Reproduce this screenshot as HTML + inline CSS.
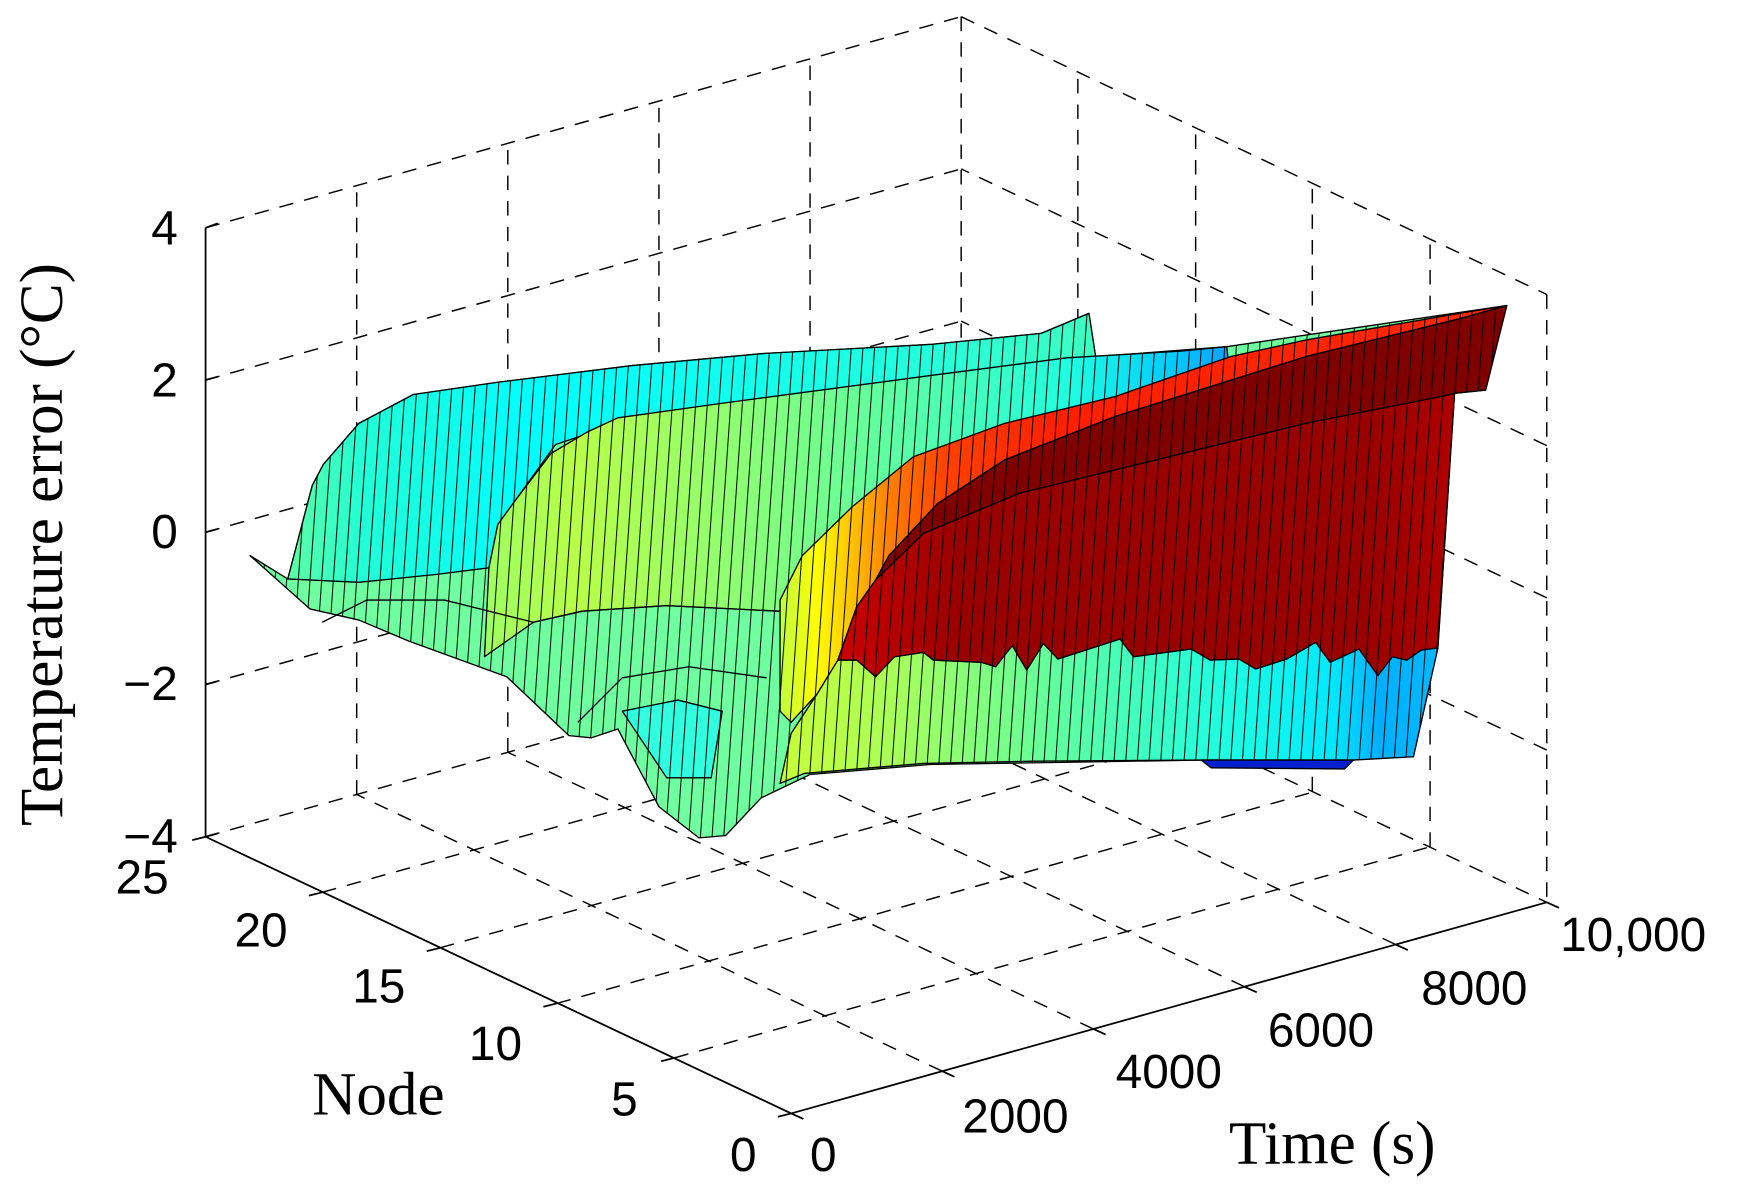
<!DOCTYPE html>
<html><head><meta charset="utf-8"><style>
html,body{margin:0;padding:0;background:#fff;}
svg{display:block;}
</style></head><body>
<svg width="1739" height="1195" viewBox="0 0 1565 1075.4" preserveAspectRatio="none" xmlns="http://www.w3.org/2000/svg">
<defs>
<pattern id="st" patternUnits="userSpaceOnUse" width="10.5" height="40" patternTransform="skewX(-4)">
<line x1="0.5" y1="0" x2="0.5" y2="40" stroke="#000" stroke-width="0.9"/>
</pattern>
<linearGradient id="g1" gradientUnits="userSpaceOnUse" x1="255" y1="0" x2="990" y2="0">
<stop offset="0" stop-color="#60ffa0"/><stop offset="0.1" stop-color="#20ffd8"/><stop offset="0.3" stop-color="#00ffff"/><stop offset="0.75" stop-color="#20ffe0"/><stop offset="1" stop-color="#40ffc0"/></linearGradient>
<linearGradient id="g2" gradientUnits="userSpaceOnUse" x1="440" y1="0" x2="1106" y2="0">
<stop offset="0" stop-color="#a0ff60"/><stop offset="0.12" stop-color="#b8ff48"/><stop offset="0.32" stop-color="#90ff70"/><stop offset="0.6" stop-color="#50ffb0"/><stop offset="0.78" stop-color="#20ffe0"/><stop offset="0.93" stop-color="#00c8ff"/><stop offset="1" stop-color="#10a0ff"/></linearGradient>
<linearGradient id="g3" gradientUnits="userSpaceOnUse" x1="702" y1="0" x2="1294" y2="0">
<stop offset="0" stop-color="#c8ff38"/><stop offset="0.17" stop-color="#a8ff58"/><stop offset="0.42" stop-color="#60ffa0"/><stop offset="0.67" stop-color="#20ffe0"/><stop offset="0.84" stop-color="#00e8ff"/><stop offset="0.91" stop-color="#00b0ff"/><stop offset="1" stop-color="#00b8ff"/></linearGradient>
<linearGradient id="g4" gradientUnits="userSpaceOnUse" x1="702" y1="0" x2="1356" y2="0">
<stop offset="0" stop-color="#c0ff40"/><stop offset="0.05" stop-color="#ffff00"/><stop offset="0.1" stop-color="#ffc000"/><stop offset="0.15" stop-color="#ff8000"/><stop offset="0.23" stop-color="#ff4000"/><stop offset="0.38" stop-color="#ff2000"/><stop offset="1" stop-color="#ff2800"/></linearGradient>
<linearGradient id="g5" gradientUnits="userSpaceOnUse" x1="754" y1="0" x2="1310" y2="0">
<stop offset="0" stop-color="#cc0000"/><stop offset="0.2" stop-color="#990000"/><stop offset="0.85" stop-color="#990000"/><stop offset="1" stop-color="#b00000"/></linearGradient>
</defs>

<g stroke="#000" stroke-width="1.3" stroke-dasharray="13,10" fill="none">
<line x1="321" y1="715" x2="321" y2="167"/><line x1="457" y1="677" x2="457" y2="129"/><line x1="593" y1="639" x2="593" y2="91"/><line x1="729" y1="601" x2="729" y2="53"/>
<line x1="185" y1="616" x2="865" y2="426"/><line x1="185" y1="479" x2="865" y2="289"/><line x1="185" y1="342" x2="865" y2="152"/>
<line x1="1287" y1="762" x2="1287" y2="214"/><line x1="1181" y1="712" x2="1181" y2="164"/><line x1="1076" y1="663" x2="1076" y2="115"/><line x1="970" y1="613" x2="970" y2="65"/>
<line x1="1392" y1="675" x2="865" y2="426"/><line x1="1392" y1="538" x2="865" y2="289"/><line x1="1392" y1="401" x2="865" y2="152"/>
<line x1="848" y1="964" x2="321" y2="715"/><line x1="984" y1="926" x2="457" y2="677"/><line x1="1120" y1="888" x2="593" y2="639"/><line x1="1256" y1="850" x2="729" y2="601"/>
<line x1="607" y1="952" x2="1287" y2="762"/><line x1="501" y1="903" x2="1181" y2="713"/><line x1="396" y1="853" x2="1076" y2="663"/><line x1="290" y1="803" x2="970" y2="613"/>
<line x1="185" y1="205" x2="865" y2="15"/><line x1="865" y1="15" x2="1392" y2="265"/><line x1="1392" y1="265" x2="1392" y2="812"/><line x1="865" y1="15" x2="865" y2="563"/>
<line x1="185" y1="753" x2="865" y2="563"/><line x1="865" y1="563" x2="1392" y2="812"/>
</g>
<g stroke="#000" stroke-width="1.6" fill="none">
<line x1="185" y1="205" x2="185" y2="753"/><line x1="185" y1="753" x2="712" y2="1002"/><line x1="712" y1="1002" x2="1392" y2="812"/>
<line x1="185" y1="205" x2="196" y2="201"/><line x1="185" y1="342" x2="196" y2="339"/><line x1="185" y1="479" x2="196" y2="476"/><line x1="185" y1="616" x2="196" y2="613"/><line x1="185" y1="753" x2="196" y2="750"/>
<line x1="712" y1="1002" x2="723" y2="1007"/><line x1="848" y1="964" x2="859" y2="969"/><line x1="984" y1="926" x2="995" y2="931"/><line x1="1120" y1="888" x2="1131" y2="893"/><line x1="1256" y1="850" x2="1267" y2="855"/><line x1="1392" y1="812" x2="1403" y2="817"/>
<line x1="712" y1="1002" x2="700" y2="1005"/><line x1="607" y1="952" x2="595" y2="955"/><line x1="501" y1="903" x2="489" y2="906"/><line x1="396" y1="853" x2="384" y2="856"/><line x1="290" y1="803" x2="278" y2="806"/><line x1="185" y1="753" x2="173" y2="756"/>
</g>

<g stroke="#000" stroke-width="1.2" stroke-linejoin="round">
<polygon fill="#70ffa0" points="225,500 279,548 323,558 368,577 456,609 512,662 532,664 556,656 593,726 629,754 653,752 685,718 729,697 837,688 1081,684 1272,681 1294,583 1309,354 1337,351 1356,275 1104,312 986,321 980,282 937,300 837,310 689,318 569,329 448,344 372,355 323,381 291,418 281,437 259,521"/>
<polygon fill="url(#st)" stroke="none" points="225,500 279,548 323,558 368,577 456,609 512,662 532,664 556,656 593,726 629,754 653,752 685,718 729,697 837,688 1081,684 1272,681 1294,583 1309,354 1337,351 1356,275 1104,312 986,321 980,282 937,300 837,310 689,318 569,329 448,344 372,355 323,381 291,418 281,437 259,521"/>
<polygon fill="#30ffe0" points="560,640 610,630 650,640 640,700 600,700"/>
<polygon fill="url(#st)" stroke="none" points="560,640 610,630 650,640 640,700 600,700"/>
<polygon fill="url(#g1)" points="259,521 281,437 291,418 323,381 372,355 448,344 569,329 689,318 837,310 937,300 980,282 986,321 840,340 560,380 500,400 464,450 448,472 440,511 392,517 323,524"/>
<polygon fill="url(#st)" stroke="none" points="259,521 281,437 291,418 323,381 372,355 448,344 569,329 689,318 837,310 937,300 980,282 986,321 840,340 560,380 500,400 464,450 448,472 440,511 392,517 323,524"/>
<polygon fill="url(#g2)" points="436,591 440,511 448,472 464,450 496,408 528,389 556,376 649,363 837,338 960,322 1063,316 1104,312 1106,330 900,420 780,480 720,530 701,550 600,545 524,550 480,560"/>
<polygon fill="url(#st)" stroke="none" points="436,591 440,511 448,472 464,450 496,408 528,389 556,376 649,363 837,338 960,322 1063,316 1104,312 1106,330 900,420 780,480 720,530 701,550 600,545 524,550 480,560"/>
<polyline fill="none" points="290,560 330,540 400,540 480,560 524,550 600,545 701,550"/>
<polyline fill="none" points="520,650 560,610 620,600 690,610"/>
<polygon fill="url(#g3)" points="702,705 724,696 831,687 930,685 1081,684 1218,684 1272,681 1294,583 1279,585 1266,594 1253,591 1240,608 1223,584 1197,596 1184,578 1158,593 1130,602 1115,593 1089,594 1072,584 1020,591 1008,575 952,593 939,579 924,603 911,581 896,600 883,596 840,594 831,587 805,591 788,609 771,594 754,594 735,625 712,660"/>
<polygon fill="url(#st)" stroke="none" points="702,705 724,696 831,687 930,685 1081,684 1218,684 1272,681 1294,583 1279,585 1266,594 1253,591 1240,608 1223,584 1197,596 1184,578 1158,593 1130,602 1115,593 1089,594 1072,584 1020,591 1008,575 952,593 939,579 924,603 911,581 896,600 883,596 840,594 831,587 805,591 788,609 771,594 754,594 735,625 712,660"/>
<polygon fill="#0020d0" points="1081,684 1218,684 1210,692 1090,691"/>
<polygon fill="url(#g4)" points="702,540 722,500 767,456 822,411 904,381 1003,357 1107,321 1175,306 1313,282 1356,275 1313,287 1175,321 1089,348 1003,375 904,414 844,453 800,500 788,522 771,546 754,594 735,625 712,650 702,640"/>
<polygon fill="url(#st)" stroke="none" points="702,540 722,500 767,456 822,411 904,381 1003,357 1107,321 1175,306 1313,282 1356,275 1313,287 1175,321 1089,348 1003,375 904,414 844,453 800,500 788,522 771,546 754,594 735,625 712,650 702,640"/>
<polygon fill="#800000" points="844,453 904,414 1003,375 1089,348 1175,321 1313,287 1356,275 1337,351 1309,354 1296,357 1175,381 1089,402 1003,423 917,444 831,480 788,522 800,500"/>
<polygon fill="url(#st)" stroke="none" points="844,453 904,414 1003,375 1089,348 1175,321 1313,287 1356,275 1337,351 1309,354 1296,357 1175,381 1089,402 1003,423 917,444 831,480 788,522 800,500"/>
<polygon fill="url(#g5)" points="788,522 831,480 917,444 1003,423 1089,402 1175,381 1296,357 1309,354 1294,583 1279,585 1266,594 1253,591 1240,608 1223,584 1197,596 1184,578 1158,593 1130,602 1115,593 1089,594 1072,584 1020,591 1008,575 952,593 939,579 924,603 911,581 896,600 883,596 840,594 831,587 805,591 788,609 771,594 754,594 771,546"/>
<polygon fill="url(#st)" stroke="none" points="788,522 831,480 917,444 1003,423 1089,402 1175,381 1296,357 1309,354 1294,583 1279,585 1266,594 1253,591 1240,608 1223,584 1197,596 1184,578 1158,593 1130,602 1115,593 1089,594 1072,584 1020,591 1008,575 952,593 939,579 924,603 911,581 896,600 883,596 840,594 831,587 805,591 788,609 771,594 754,594 771,546"/>
</g>

<g font-family="'Liberation Sans', sans-serif" font-size="43" fill="#000">
<g text-anchor="end">
<text x="160" y="220">4</text><text x="160" y="357">2</text><text x="160" y="493">0</text><text x="160" y="630">−2</text><text x="160" y="767">−4</text>
</g>
<text x="104" y="804">25</text><text x="211" y="852">20</text><text x="317" y="902">15</text><text x="422" y="954">10</text><text x="550" y="1004">5</text><text x="657" y="1054">0</text>
<text x="729" y="1054">0</text><text x="866" y="1019">2000</text><text x="1004" y="979">4000</text><text x="1141" y="942">6000</text><text x="1279" y="904">8000</text><text x="1404" y="856">10,000</text>
</g>
<g font-family="'Liberation Serif', serif" font-size="55" fill="#000">
<text x="281" y="1003">Node</text>
<text x="1106" y="1047">Time (s)</text>
<text transform="translate(56,490) rotate(-90)" text-anchor="middle">Temperature error (°C)</text>
</g>
</svg>
</body></html>
